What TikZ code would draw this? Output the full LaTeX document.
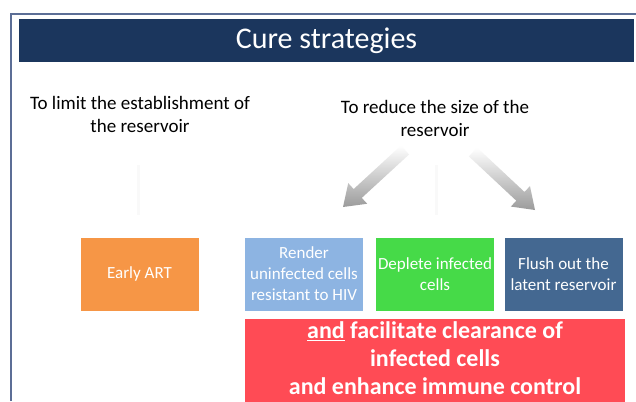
\documentclass[tikz,border=0pt]{standalone}
\usepackage{fontspec}
\setmainfont{Carlito}
\usepackage{tikz}
\usetikzlibrary{calc}
\usepackage{xcolor}

\definecolor{titlenavy}{RGB}{27,54,93}
\definecolor{framegray}{RGB}{92,110,150}
\definecolor{artorange}{RGB}{246,150,70}
\definecolor{renderblue}{RGB}{141,180,226}
\definecolor{depletegreen}{RGB}{70,218,72}
\definecolor{flushblue}{RGB}{68,104,145}
\definecolor{clearred}{RGB}{255,75,85}
\definecolor{arrowgray}{RGB}{155,155,155}

\tikzset{
  strat/.style={rectangle, minimum width=118, minimum height=73, inner sep=1pt,
    text=white, align=center, font=\fontsize{17}{21}\selectfont},
  aim/.style={align=center, font=\fontsize{19}{23}\selectfont},
}

% broad shaded arrow from #1 to #2
\newcommand{\fatarrow}[2]{%
  \coordinate (hb) at ($(#2)!20pt!(#1)$);
  \shade[top color=white, bottom color=arrowgray]
    ($(#1)!6pt!90:(#2)$) -- ($(hb)!6pt!90:(#2)$) -- ($(hb)!14pt!90:(#2)$)
    -- (#2) -- ($(hb)!14pt!-90:(#2)$) -- ($(hb)!6pt!-90:(#2)$)
    -- ($(#1)!6pt!-90:(#2)$) -- cycle;
}

\begin{document}
\begin{tikzpicture}[x=1pt,y=-1pt]
 \clip (0,0) rectangle (636,401);
 \fill[white] (0,0) rectangle (636,401);

 % frame and title bar
 \draw[line width=2pt,framegray] (11,401) -- (11,14) -- (636,14);
 \node[fill=titlenavy, minimum width=615, minimum height=43, inner sep=0pt,
   text=white, font=\fontsize{30}{34}\selectfont] (title) at (326.5,41) {Cure strategies};

 % the two aims
 \node[aim] (limit) at (140,114) {To limit the establishment of\\the reservoir};
 \node[aim] (reduce) at (435,118) {To reduce the size of the\\reservoir};

 % faint guides
 \draw[line width=3pt,black!2.5] (138,165) -- (138,215);
 \draw[line width=3pt,black!2.5] (436,165) -- (436,215);

 % arrows
 \coordinate (la) at (405,150);
 \coordinate (lt) at (343,207);
 \coordinate (ra) at (473,152);
 \coordinate (rt) at (535,210);
 \fatarrow{la}{lt}
 \fatarrow{ra}{rt}

 % strategies
 \node[strat, fill=artorange] (art) at (139.5,274) {Early ART};
 \node[strat, fill=renderblue] (render) at (304,274) {Render\\uninfected cells\\resistant to HIV};
 \node[strat, fill=depletegreen] (deplete) at (435,274) {Deplete infected\\cells};
 \node[strat, fill=flushblue] (flush) at (563.5,274) {Flush out the\\latent reservoir};

 \fill[clearred] (245,319) rectangle (625,406);
 \node[inner sep=0pt, text=white, align=center,
   font=\bfseries\fontsize{24}{28}\selectfont] (clear) at (435,358)
   {\underline{and} facilitate clearance of\\infected cells\\and enhance immune control};
\end{tikzpicture}
\end{document}
